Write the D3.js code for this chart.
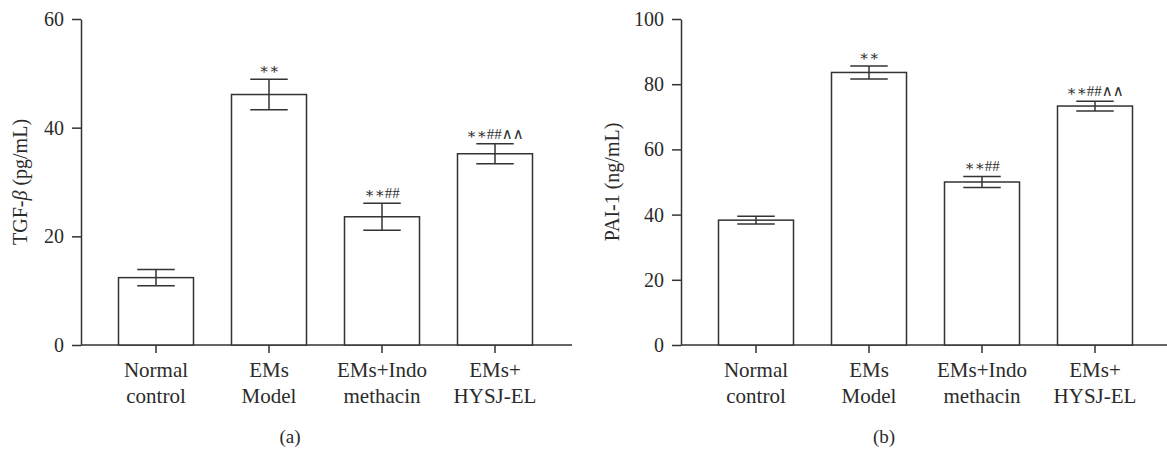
<!DOCTYPE html>
<html><head><meta charset="utf-8">
<script src="https://cdn.jsdelivr.net/npm/d3@7"></script>
<style>body{margin:0;background:#fff}svg{display:block}text{font-family:"Liberation Serif","DejaVu Serif",serif;fill:#2b2b2b}</style>
</head><body><svg id="c" width="1167" height="449"></svg>
<script>
const categories = [["Normal","control"],["EMs","Model"],["EMs+Indo","methacin"],["EMs+","HYSJ-EL"]];
const tgfMean = [12.4, 46.1, 23.6, 35.2];
const tgfErr = [1.5, 2.8, 2.5, 1.85];
const tgfSig = ["", "∗∗", "∗∗##", "∗∗##∧∧"];
const tgfTicks = [0, 20, 40, 60];
const paiMean = [38.3, 83.6, 50.0, 73.3];
const paiErr = [1.2, 2.0, 1.7, 1.5];
const paiSig = ["", "∗∗", "∗∗##", "∗∗##∧∧"];
const paiTicks = [0, 20, 40, 60, 80, 100];

const svg = d3.select("#c");
const col = "#333";
const plotTop = 19, base = 345;

function panel(opt){
  const g = svg.append("g");
  const y = d3.scaleLinear().domain([0, opt.max]).range([base, plotTop]);
  const x = d3.scaleBand().domain(categories.map((c,i)=>i))
    .range([opt.ax + 37.5, opt.ax + 37.5 + 113*(4 - 38/113)]).paddingInner(38/113).paddingOuter(0);
  // y axis
  const ya = g.append("g").attr("transform",`translate(${opt.ax},0)`)
    .call(d3.axisLeft(y).tickValues(opt.ticks).tickSize(9).tickPadding(8).tickSizeOuter(0));
  ya.select(".domain").attr("stroke",col).attr("stroke-width",1.5);
  ya.selectAll(".tick line").attr("stroke",col).attr("stroke-width",1.5);
  ya.selectAll(".tick text").attr("font-size",20).attr("font-family","Liberation Serif").attr("fill","#2b2b2b");
  // x axis
  const xa = g.append("g").attr("transform",`translate(0,${base})`)
    .call(d3.axisBottom(x).tickSize(8).tickFormat("").tickSizeOuter(0));
  xa.select(".domain").remove();
  xa.selectAll(".tick line").attr("stroke",col).attr("stroke-width",1.5);
  g.append("line").attr("x1",opt.ax).attr("x2",opt.axEnd).attr("y1",base).attr("y2",base)
    .attr("stroke",col).attr("stroke-width",1.5);
  // bars
  g.selectAll("rect.bar").data(opt.mean).join("rect").attr("class","bar")
    .attr("x",(d,i)=>x(i)).attr("width",x.bandwidth())
    .attr("y",d=>y(d)).attr("height",d=>base-y(d))
    .attr("fill","#fff").attr("stroke",col).attr("stroke-width",1.5);
  // error bars
  const cx = i => x(i) + x.bandwidth()/2;
  const hw = x.bandwidth()/4;
  opt.mean.forEach((m,i)=>{
    const e = opt.err[i];
    g.append("line").attr("x1",cx(i)).attr("x2",cx(i)).attr("y1",y(m+e)).attr("y2",y(m-e)).attr("stroke",col).attr("stroke-width",1.5);
    [m+e, m-e].forEach(v=>g.append("line").attr("x1",cx(i)-hw).attr("x2",cx(i)+hw).attr("y1",y(v)).attr("y2",y(v)).attr("stroke",col).attr("stroke-width",1.5));
    if(opt.sig[i]) g.append("text").attr("x",cx(i)).attr("y",y(m+e)-5).attr("text-anchor","middle")
      .attr("font-size",15).text(opt.sig[i]);
  });
  // category labels
  categories.forEach((c,i)=>{
    const t = g.append("text").attr("x",cx(i)).attr("y",377).attr("text-anchor","middle").attr("font-size",21);
    t.append("tspan").attr("x",cx(i)).text(c[0]);
    t.append("tspan").attr("x",cx(i)).attr("dy",26).text(c[1]);
  });
  // y label
  const yl = g.append("text").attr("transform",`translate(${opt.lx},182) rotate(-90)`).attr("text-anchor","middle").attr("font-size",20);
  opt.label(yl);
  g.append("text").attr("x",opt.capX).attr("y",443).attr("text-anchor","middle").attr("font-size",19).text(opt.cap);
}

panel({ax:81, axEnd:572, max:60, ticks:tgfTicks, mean:tgfMean, err:tgfErr, sig:tgfSig, lx:27, capX:290, cap:"(a)",
  label: t=>{ t.append("tspan").text("TGF-"); t.append("tspan").attr("font-style","italic").text("β"); t.append("tspan").text(" (pg/mL)"); }});
panel({ax:681, axEnd:1167, max:100, ticks:paiTicks, mean:paiMean, err:paiErr, sig:paiSig, lx:619, capX:884, cap:"(b)",
  label: t=>t.text("PAI-1 (ng/mL)")});
</script></body></html>
